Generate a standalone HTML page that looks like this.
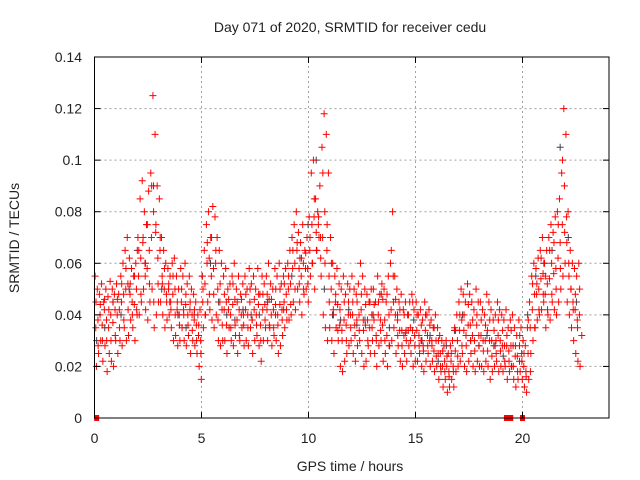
<!DOCTYPE html>
<html><head><meta charset="utf-8"><style>
body{margin:0;background:#fff}
svg{display:block;font-family:"Liberation Sans",sans-serif}
</style></head><body>
<svg id="c" width="640" height="480"></svg>
<script>
const xTicks=[0,5,10,15,20];
const yTicks=[0,0.02,0.04,0.06,0.08,0.1,0.12,0.14];
const yTickLabels=["0","0.02","0.04","0.06","0.08","0.1","0.12","0.14"];
const redHi=[55,50,48,52,45,50,47,53,50,48,52,48,55,60,65,70,62,58,55,60,70,85,92,80,75,88,95,125,110,90,85,70,65,60,58,55,60,62,55,50,58,55,60,52,55,50,48,45,40,42,55,65,75,80,70,82,78,70,65,60,55,58,50,52,55,60,50,55,48,52,55,50,58,52,55,50,58,48,55,52,55,60,52,50,58,55,60,52,55,58,60,65,70,75,80,72,68,75,65,70,78,95,100,85,80,90,105,118,110,95,70,60,55,58,52,50,55,48,52,50,55,50,48,52,60,55,50,48,45,50,50,45,55,48,52,50,45,55,60,80,55,50,45,48,42,45,40,45,48,42,45,40,42,38,45,40,42,38,35,40,35,32,30,28,30,25,28,30,35,40,45,50,48,45,52,48,45,42,50,45,45,42,40,48,45,42,38,40,45,42,40,38,42,35,38,40,35,32,38,35,30,28,35,45,55,60,58,62,65,70,60,65,70,75,72,78,80,85,95,120,110,80,65,60,58,55,60];
const redMid=[35,38,40,36,42,38,35,40,37,42,40,42,45,48,50,52,48,45,44,50,55,62,68,60,58,65,70,80,72,62,65,55,50,48,50,45,48,50,42,40,45,42,44,40,42,40,38,36,32,30,45,52,60,62,55,58,60,50,45,42,42,45,42,40,44,46,38,42,40,40,42,40,45,38,42,40,44,36,42,44,42,46,40,42,44,40,44,42,45,48,50,52,58,60,65,58,55,60,58,58,65,75,78,72,75,70,70,80,65,55,50,42,45,44,36,34,38,36,40,40,40,36,38,40,42,38,36,38,35,40,38,32,40,38,36,38,32,40,42,55,40,38,34,34,32,34,34,35,34,32,34,32,30,28,34,32,30,30,26,30,25,25,20,22,20,18,22,20,26,30,34,38,34,32,36,36,32,30,36,32,32,30,30,34,30,30,28,30,32,30,28,28,28,26,28,28,24,24,28,25,20,18,25,35,42,48,48,50,54,56,48,52,54,60,56,58,62,68,75,90,78,60,50,45,42,38,40];
const redLo=[20,25,30,22,28,18,25,22,20,30,25,30,28,35,30,32,38,35,30,40,40,45,50,42,38,45,50,35,40,45,45,40,35,38,40,35,30,32,28,30,35,30,28,32,25,30,28,25,20,15,35,40,45,42,38,35,40,30,28,30,30,25,35,30,28,32,25,30,35,28,30,28,35,25,30,32,28,22,30,35,30,35,28,32,30,25,28,32,35,38,38,40,45,42,50,45,40,48,50,45,55,60,50,65,70,55,40,35,30,35,30,25,35,30,20,18,22,25,28,30,25,22,28,30,25,20,22,28,25,30,25,20,28,30,22,25,20,28,30,35,25,28,22,20,25,22,28,25,20,22,22,25,20,18,22,25,20,22,18,20,15,18,12,15,10,12,15,12,18,20,22,25,20,18,22,25,20,18,22,20,20,18,22,20,15,18,20,22,18,20,18,20,15,18,20,15,12,15,18,15,12,10,15,25,30,35,38,40,42,45,35,40,38,45,42,40,45,50,55,60,45,40,35,30,25,22,20];
const redUp=[45,44,46,42,45,46,52,58,52,55,65,70,75,90,75,70,58,52,55,45,50,48,45,42,36,50,68,70,65,52,48,46,52,45,46,48,50,46,48,48,48,46,50,50,52,55,65,68,62,64,70,85,78,95,75,60,48,42,45,45,45,45,48,44,45,44,45,46,48,65,46,42,40,40,45,40,36,40,36,35,30,26,24,25,34,40,40,44,38,40,38,36,38,34,38,34,32,34,28,32,25,38,52,52,62,55,65,68,75,100,68,50,48,50];
const redDn=[28,30,30,30,32,35,38,42,40,42,48,55,52,45,52,52,45,42,40,36,40,36,34,30,25,40,48,48,38,36,36,35,36,32,36,35,38,36,30,38,36,35,36,38,42,44,50,52,50,52,60,65,62,60,45,40,34,30,30,35,32,34,34,30,35,30,34,30,28,45,32,28,30,30,28,28,26,28,28,24,20,18,16,18,24,28,28,30,26,28,26,26,24,25,26,22,22,20,18,22,16,18,35,42,48,42,48,50,58,72,55,42,35,32];
const grayVals=[30,35,45,40,50,65,60,90,50,45,40,35,40,55,60,45,40,38,42,40,40,45,40,42,55,62,75,100,50,40,38,42,36,38,40,48,35,40,33,38,30,32,22,28,34,40,30,28,32,28,24,20,22,40,55,60,65,105,70,45];
const zeroTimes=[0.1,19.25,19.35,19.45,20.0];

const svg=document.getElementById('c');
const NS='http://www.w3.org/2000/svg';
const X0=94.5,X1=609,Y0=418,Y1=57;
const sx=t=>X0+t*(201.5-94.5)/5;
const sy=v=>Y0-(v/0.14)*(Y0-Y1);
function mk(tag,attrs,parent){const e=document.createElementNS(NS,tag);for(const k in attrs)e.setAttribute(k,attrs[k]);(parent||svg).appendChild(e);return e;}

const grid=mk('g',{});


xTicks.forEach(t=>{if(t>0){const l=mk('line',{x1:sx(t),x2:sx(t),y1:Y0,y2:Y1,stroke:'#a0a0a0','stroke-dasharray':'2,3'},grid);}});
yTicks.forEach(v=>{if(v>0&&v<0.14){const l=mk('line',{x1:X0,x2:X1,y1:sy(v),y2:sy(v),stroke:'#a0a0a0','stroke-dasharray':'2,3'},grid);}});

function plus(g,x,y,c){let d='M'+(x-3.5)+' '+y+'h7M'+x+' '+(y-3.5)+'v7';const p=mk('path',{d:d,stroke:c,'stroke-width':1,fill:'none'},g);}
const gG=mk('g',{});


grayVals.forEach((v,i)=>plus(gG,sx(i*0.38+0.1),sy(v/1000),'#404050'));
const rG=mk('g',{});


[redHi,redMid,redLo].forEach((arr,k)=>arr.forEach((v,i)=>plus(rG,sx(i*0.1+0.03+k*0.03),sy(v/1000),'#ff0000')));
[redUp,redDn].forEach((arr,k)=>arr.forEach((v,i)=>plus(rG,sx(i*0.2+0.07+k*0.1),sy(v/1000),'#ff0000')));
zeroTimes.forEach(t=>{const r=mk('rect',{x:sx(t)-2.5,y:Y0-3,width:5,height:6,fill:'#ff0000'},rG);});

const fr=mk('rect',{x:X0,y:Y1,width:X1-X0,height:Y0-Y1,fill:'none',stroke:'#000','stroke-width':1});


xTicks.forEach(t=>{const l=mk('line',{x1:sx(t),x2:sx(t),y1:Y0,y2:Y0-6,stroke:'#000'});
const l2=mk('line',{x1:sx(t),x2:sx(t),y1:Y1,y2:Y1+6,stroke:'#000'});
const tx=mk('text',{x:sx(t),y:443,'text-anchor':'middle','font-size':14,fill:'#222'});tx.textContent=t;});
yTicks.forEach((v,i)=>{const l=mk('line',{x1:X0,x2:X0+6,y1:sy(v),y2:sy(v),stroke:'#000'});
const l2=mk('line',{x1:X1,x2:X1-6,y1:sy(v),y2:sy(v),stroke:'#000'});
const tx=mk('text',{x:82,y:sy(v)+5,'text-anchor':'end','font-size':14,fill:'#222'});tx.textContent=yTickLabels[i];});
const title=mk('text',{x:350,y:32,'text-anchor':'middle','font-size':14,fill:'#222'});
title.textContent='Day 071 of 2020, SRMTID for receiver cedu';


const xl=mk('text',{x:350,y:471,'text-anchor':'middle','font-size':14,fill:'#222'});
xl.textContent='GPS time / hours';


const yl=mk('text',{x:0,y:0,'text-anchor':'middle','font-size':14,fill:'#222',transform:'translate(19,238) rotate(-90)'});
yl.textContent='SRMTID / TECUs';


</script>
</body></html>
